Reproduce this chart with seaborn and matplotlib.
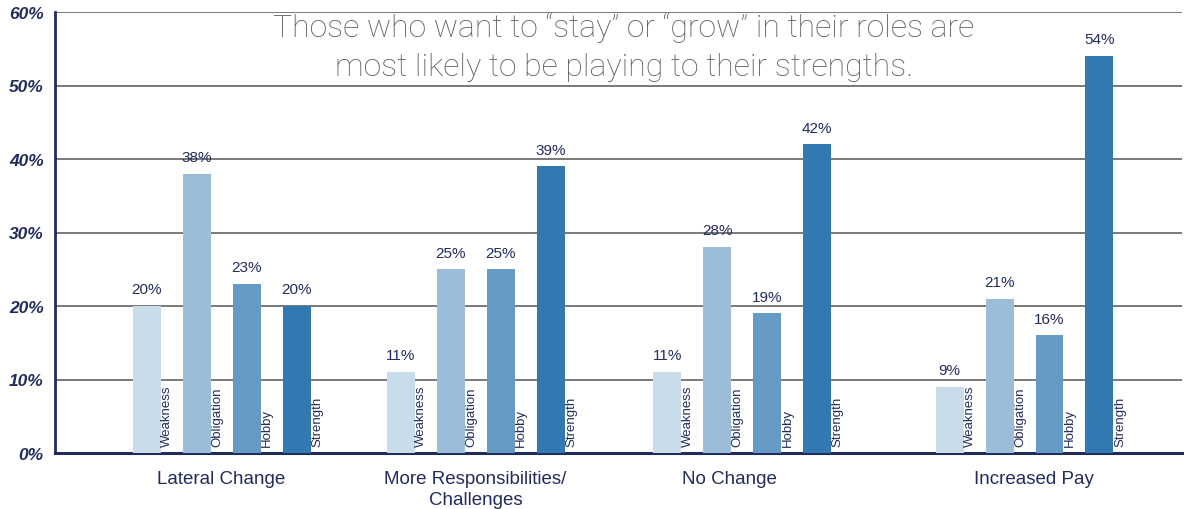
import matplotlib
matplotlib.use("Agg")
import matplotlib.pyplot as plt
import seaborn as sns
import pandas as pd

# Survey results: share of respondents per career intention
groups = ["Lateral Change", "More Responsibilities/\nChallenges", "No Change", "Increased Pay"]
types = ["Weakness", "Obligation", "Hobby", "Strength"]
weakness = [20, 11, 11, 9]
obligation = [38, 25, 28, 21]
hobby = [23, 25, 19, 16]
strength = [20, 39, 42, 54]
y_ticks = [0, 10, 20, 30, 40, 50, 60]

# Horizontal placement of each group (in group-spacing units) and its caption
group_pos = [0.0, 1.0, 2.049, 3.161]
label_pos = [0.0, 1.0, 2.0, 3.2]

palette = ["#c9dcea", "#9bbdd8", "#649ac3", "#3179b0"]
navy = "#222c5c"

rows = []
for t, vals in zip(types, [weakness, obligation, hobby, strength]):
    for p, v in zip(group_pos, vals):
        rows.append({"pos": p, "type": t, "value": v})
df = pd.DataFrame(rows)

sns.set_style("white")
plt.rcParams["font.family"] = ["Liberation Sans", "DejaVu Sans"]

fig = plt.figure(figsize=(11.84, 5.10), dpi=100)
ax = fig.add_axes([55 / 1184, 56 / 510, (1182 - 55) / 1184, (454 - 13) / 510])

sns.barplot(data=df, x="pos", y="value", hue="type", hue_order=types,
            palette=palette, native_scale=True, orient="x", width=0.787,
            gap=0.44, dodge=True, errorbar=None, saturation=1, legend=False,
            linewidth=0, ax=ax, zorder=3)

ax.set_xlim(-0.656, 3.781)
ax.set_ylim(0, 60)
ax.set_yticks(y_ticks)
ax.set_yticklabels([f"{v}%" for v in y_ticks], fontsize=12.5, fontweight="bold",
                   fontstyle="italic", color=navy)
ax.set_xticks(label_pos)
ax.set_xticklabels(groups, fontsize=13.5, color=navy, linespacing=1.3)
ax.set_xlabel("")
ax.set_ylabel("")

ax.tick_params(axis="y", direction="in", length=13, width=2, color=navy, pad=8)
ax.tick_params(axis="x", length=0, pad=12)

ax.yaxis.grid(True, color="#6e6e6e", linewidth=1.3, zorder=0)
ax.set_axisbelow(True)
for side in ["top", "right"]:
    ax.spines[side].set_visible(False)
ax.spines["left"].set_color(navy)
ax.spines["left"].set_linewidth(2)
ax.spines["bottom"].set_color(navy)
ax.spines["bottom"].set_linewidth(2.2)

# Value labels above each bar and series names beside each bar
for i, cont in enumerate(ax.containers):
    ax.bar_label(cont, labels=[f"{int(b.get_height())}%" for b in cont],
                 padding=7, fontsize=11, color=navy)
    for b in cont:
        ax.text(b.get_x() + b.get_width() + 0.002, 0.9, types[i], rotation=90,
                ha="left", va="bottom", fontsize=9.5, color=navy)

fig.text(624 / 1184, 1 - 47.5 / 510,
         "Those who want to “stay” or “grow” in their roles are\n"
         "most likely to be playing to their strengths.",
         ha="center", va="center", fontsize=23, color="#5a5a5a",
         family=["Roboto", "DejaVu Sans"], fontweight="light", linespacing=1.4)

fig.savefig("out.png", dpi=100)
